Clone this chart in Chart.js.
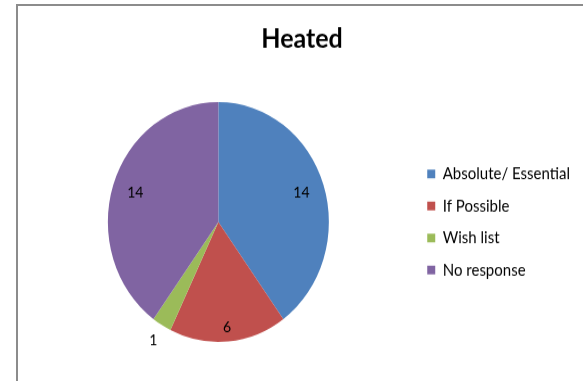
<!DOCTYPE html>
<html>
<head>
  <title>Heated</title>
  <script src="https://cdn.jsdelivr.net/npm/chart.js"></script>
  <style>
    body {
      margin: 0;
      background-color: #fff;
      width: 583px;
      height: 381px;
      overflow: hidden;
      position: relative;
    }
    .frame {
      position: absolute;
      left: 16px;
      top: 4px;
      width: 700px;
      height: 500px;
      border-left: 2px solid #8c8c8c;
      border-top: 2px solid #8c8c8c;
    }
    /* the original picture is a little taller than wide, so stretch the canvas */
    .wrap {
      position: absolute;
      left: 0;
      top: 0;
      transform: scale(1, 1.0855);
      transform-origin: 0 0;
    }
  </style>
</head>
<body>
  <div class="frame"></div>
  <div class="wrap">
    <canvas id="heatedChart" width="583" height="351"></canvas>
  </div>

  <script>
    const categories = ['Absolute/ Essential', 'If Possible', 'Wish list', 'No response'];
    const responses = [14, 6, 1, 14];
    const sliceColors = ['#4f81bd', '#c0504d', '#9bbb59', '#8064a2'];

    // writes the value on each slice, small slices get it just outside
    const valueLabels = {
      id: 'valueLabels',
      afterDatasetsDraw(chart) {
        const ctx = chart.ctx;
        const data = chart.data.datasets[0].data;
        const total = data.reduce((a, b) => a + b, 0);
        ctx.save();
        ctx.font = '14px Lato';
        ctx.fillStyle = '#000';
        ctx.textAlign = 'center';
        ctx.textBaseline = 'middle';
        chart.getDatasetMeta(0).data.forEach((arc, i) => {
          const p = arc.getProps(['x', 'y', 'startAngle', 'endAngle', 'outerRadius'], true);
          const mid = (p.startAngle + p.endAngle) / 2;
          const share = data[i] / total;
          const r = p.outerRadius * (share < 0.05 ? 1.15 : 0.95 - share * 0.4);
          ctx.fillText(String(data[i]), p.x + Math.cos(mid) * r, p.y + Math.sin(mid) * r);
        });
        ctx.restore();
      }
    };

    const ctx = document.getElementById('heatedChart').getContext('2d');
    new Chart(ctx, {
      type: 'pie',
      data: {
        labels: categories,
        datasets: [{
          data: responses,
          backgroundColor: sliceColors,
          borderWidth: 0
        }]
      },
      options: {
        responsive: false,
        animation: false,
        devicePixelRatio: 1,
        layout: {
          padding: { left: 24, right: 3, top: 0, bottom: 36 }
        },
        plugins: {
          title: {
            display: true,
            text: 'Heated',
            color: '#000',
            font: { family: 'Lato', size: 25, weight: 'bold', lineHeight: 1.2 },
            padding: { top: 21, bottom: 43 }
          },
          legend: {
            position: 'right',
            fullSize: false,
            labels: {
              boxWidth: 8,
              boxHeight: 8,
              padding: 14.5,
              color: '#000',
              font: { family: 'Lato', size: 15 }
            }
          },
          tooltip: { enabled: false }
        }
      },
      plugins: [valueLabels]
    });
  </script>
</body>
</html>
